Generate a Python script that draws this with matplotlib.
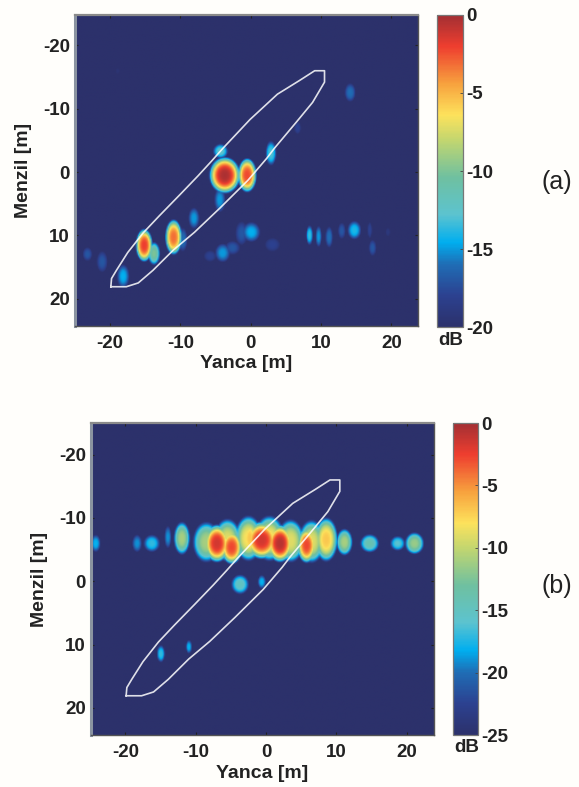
import numpy as np
import matplotlib
matplotlib.use("Agg")
import matplotlib.pyplot as plt
from matplotlib.colors import LinearSegmentedColormap

plt.rcParams['font.family'] = ['Liberation Sans', 'DejaVu Sans']
plt.rcParams['axes.unicode_minus'] = False

W = 579
H = 787

# blobs: x, y, peak dB, half width x, half width y
blobs_a = [
    (-3.7, 0.5, -0.3, 2.3, 3.0), (-0.5, 0.5, -2.3, 1.4, 2.8),
    (-15.2, 11.6, -2.0, 1.25, 2.7), (-11, 10.3, -3.2, 1.25, 2.9),
    (-13.8, 12.9, -10, 0.9, 1.9), (-18.2, 16.5, -14.5, 0.9, 1.9),
    (-9.7, 10.7, -16, 0.7, 1.9), (-8.1, 7.3, -15, 0.8, 1.7),
    (-4.3, -3.3, -12.5, 1.1, 1.2), (2.9, -3, -13, 0.8, 2.0),
    (-4.4, 4.4, -15, 0.8, 2.0), (14.2, -12.6, -16, 0.8, 1.5),
    (6.7, -7, -18, 0.5, 1.0), (0.1, 9.5, -14.5, 1.3, 1.6),
    (-1.3, 9.7, -17, 0.9, 1.9), (-4, 12.8, -15, 1.1, 1.5),
    (-2.6, 12, -17, 1.1, 1.1), (-5.8, 13.3, -18, 0.9, 0.9),
    (3.1, 11.5, -18, 1.1, 1.1), (8.4, 10, -13.5, 0.5, 1.6),
    (9.7, 10.2, -15, 0.45, 1.7), (11.2, 10.3, -16, 0.55, 1.7),
    (14.8, 9.2, -14, 1.0, 1.5), (13, 9.3, -17, 0.55, 1.3),
    (17.4, 12, -17, 0.55, 1.3), (17, 9.2, -18, 0.35, 1.3),
    (-23.3, 13, -17, 0.7, 1.1), (-21.2, 14.2, -17, 0.8, 1.7),
    (19.6, 9.5, -19, 0.35, 0.7), (-19, -16, -19.5, 0.3, 0.5),
]
blobs_b = [
    (-8.5, -6.2, -11, 2.0, 3.3), (-5.5, -6.5, -9, 2.0, 3.5),
    (-2.5, -6.8, -8, 2.0, 3.7), (0.5, -6.8, -8, 2.2, 3.7),
    (3.5, -6.4, -9, 2.0, 3.5), (6.5, -6.3, -9, 1.9, 3.5),
    (8.6, -6.6, -7, 1.7, 3.6), (-24.3, -6, -18, 0.7, 1.4),
    (-18.4, -6, -19, 0.7, 1.4), (-16.3, -6, -17, 1.2, 1.4),
    (-14, -7, -19, 0.5, 1.8), (-12, -6.8, -11, 1.2, 2.7),
    (-7, -6, -1.6, 1.9, 3.1), (-4.9, -5.4, -2.8, 1.6, 2.8),
    (-2.3, -6.8, -7, 1.2, 3.2), (-0.6, -6.5, -1.6, 2.4, 3.1),
    (2, -6, -0.7, 1.9, 3.1), (5.8, -5.7, -2.8, 1.4, 2.9),
    (11.2, -6.2, -11, 1.2, 2.2), (14.8, -6, -14, 1.4, 1.5),
    (21.2, -6, -11.5, 1.4, 1.8), (18.8, -6, -16, 1.1, 1.2),
    (-3.7, 0.5, -15, 1.3, 1.6), (-0.6, 0.1, -18, 0.6, 1.1),
    (-15, 11.5, -17, 0.6, 1.4), (-11, 10.4, -18, 0.45, 1.1),
]

# white outline, same in both panels
outline_x = [-19.9, -19.8, -19.1, -17.5, -15.3, -13, -10.1, -7.5, -5.6, -4, -0.1, 3.8, 7, 9.1, 10.5,
             10.5, 8.8, 6.5, 3.4, 2.3, -0.4, -4.4, -8, -11, -13.9, -16, -17.7, -19.9]
outline_y = [18.1, 16.8, 15.5, 12.7, 9.6, 6.9, 3.6, 0.6, -1.7, -3.7, -8.3, -12.3, -14.5, -16, -16,
             -14.2, -11, -7.9, -3.8, -2.2, 1.3, 5.7, 9.5, 12.3, 15.5, 17.5, 18.1, 18.1]

x_ticks = [-20, -10, 0, 10, 20]
y_ticks = [-20, -10, 0, 10, 20]
cb_ticks_a = [0, -5, -10, -15, -20]
cb_ticks_b = [0, -5, -10, -15, -20, -25]

cmap = LinearSegmentedColormap.from_list("radar", [
    (0.00, "#2c316b"), (0.10, "#2c4190"), (0.20, "#1f6db5"), (0.27, "#00aeef"),
    (0.36, "#5cc3cf"), (0.48, "#6fc0a0"), (0.60, "#c3d66f"), (0.68, "#fde25c"),
    (0.78, "#f7a23e"), (0.90, "#ee3e2f"), (1.00, "#a32f33"),
])


def field(blobs, floor, xlim, ylim):
    xs = np.linspace(xlim[0], xlim[1], 300)
    ys = np.linspace(ylim[0], ylim[1], 300)
    xx, yy = np.meshgrid(xs, ys)
    z = np.full(xx.shape, float(floor))
    for bx, by, peak, rx, ry in blobs:
        r2 = ((xx - bx) / rx) ** 2 + ((yy - by) / ry) ** 2
        z = np.maximum(z, peak - (peak - floor) * r2 ** 1.5)
    return z


def box(left, top, right, bottom):
    return [left / W, 1 - bottom / H, (right - left) / W, (bottom - top) / H]


def panel(pos, cpos, blobs, floor, xlim, ylim, cb_ticks, letter, letter_xy, db_xy, xlab_y, ylab_x):
    ax = fig.add_axes(box(*pos))
    z = field(blobs, floor, xlim, ylim)
    im = ax.imshow(z, cmap=cmap, vmin=floor, vmax=0, aspect='auto', interpolation='bilinear',
                   extent=[xlim[0], xlim[1], ylim[1], ylim[0]])
    ax.plot(outline_x, outline_y, color='white', lw=1.2, alpha=0.85, solid_joinstyle='round')
    ax.set_xlim(xlim)
    ax.set_ylim(ylim[1], ylim[0])
    ax.set_xticks(x_ticks)
    ax.set_yticks(y_ticks)
    ax.tick_params(direction='in', top=True, right=True, length=2.5, width=0.8, color='#222222',
                   labelsize=13.5)
    ax.tick_params(axis='x', pad=6.8)
    ax.tick_params(axis='y', pad=3.6)
    for lab in ax.get_xticklabels() + ax.get_yticklabels():
        lab.set_fontweight('bold')
        lab.set_color('#222222')
    for sp in ax.spines.values():
        sp.set_color('#555555')
        sp.set_linewidth(1.0)
    ax.spines['left'].set_color('#8a93a0')
    ax.spines['left'].set_linewidth(2.2)
    ax.spines['top'].set_color('#8a8a8a')
    ax.spines['top'].set_linewidth(1.6)
    ax.set_xlabel('Yanca [m]', fontsize=14, fontweight='bold', color='#222222', va='center')
    ax.set_ylabel('Menzil [m]', fontsize=14, fontweight='bold', color='#222222', va='center')
    ax.xaxis.set_label_coords(0.5, -(xlab_y - pos[3]) / (pos[3] - pos[1]))
    ax.yaxis.set_label_coords(-(pos[0] - ylab_x) / (pos[2] - pos[0]), 0.5)

    cax = fig.add_axes(box(*cpos))
    cb = fig.colorbar(im, cax=cax)
    cb.set_ticks(cb_ticks)
    cb.ax.tick_params(direction='in', length=2, width=0.6, labelsize=13.5, pad=2.5, color='#444444')
    for lab in cb.ax.get_yticklabels():
        lab.set_fontweight('bold')
        lab.set_color('#222222')
    cb.outline.set_edgecolor('#777777')
    cb.outline.set_linewidth(0.9)
    fig.text(db_xy[0] / W, 1 - db_xy[1] / H, 'dB', fontsize=13.5, fontweight='bold', color='#222222',
             ha='center', va='center')
    fig.text(letter_xy[0] / W, 1 - letter_xy[1] / H, letter, fontsize=18, color='#222222',
             ha='center', va='center')


fig = plt.figure(figsize=(W / 100, H / 100), dpi=100, facecolor='#fffefb')
panel((75, 15, 418, 326), (437, 15, 463, 327), blobs_a, -20, (-25, 23.8), (-24.8, 24.3),
      cb_ticks_a, '(a)', (557, 182), (451, 340), 364, 24)
panel((91, 423, 434, 735), (453, 423, 478, 735), blobs_b, -25, (-24.9, 23.9), (-25, 24.3),
      cb_ticks_b, '(b)', (557, 586), (467, 748), 773, 40)
fig.savefig('out.png', dpi=100, facecolor=fig.get_facecolor())
